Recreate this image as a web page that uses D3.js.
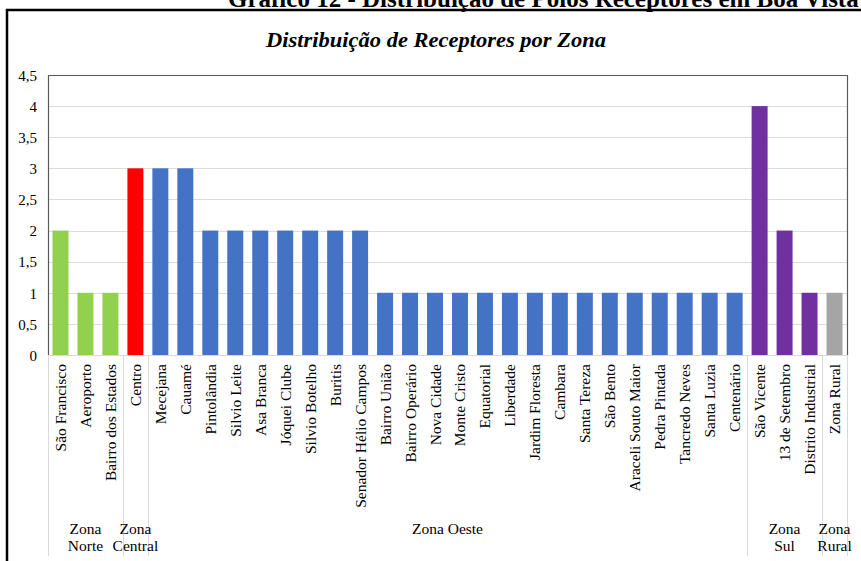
<!DOCTYPE html>
<html>
<head>
<meta charset="utf-8">
<script src="https://cdn.jsdelivr.net/npm/d3@7"></script>
<style>
  html, body { margin: 0; padding: 0; background: #fff; }
  svg { display: block; }
  text { font-family: "Liberation Serif", "Times New Roman", serif; fill: #000; }
</style>
</head>
<body>
<svg id="chart" width="861" height="561"></svg>
<script>
const categories = ["São Francisco","Aeroporto","Bairro dos Estados","Centro","Mecejana","Cauamé","Pintolândia","Silvio Leite","Asa Branca","Jóquei Clube","Silvio Botelho","Buritis","Senador Hélio Campos","Bairro União","Bairro Operário","Nova Cidade","Monte Cristo","Equatorial","Liberdade","Jardim Floresta","Cambara","Santa Tereza","São Bento","Araceli Souto Maior","Pedra Pintada","Tancredo Neves","Santa Luzia","Centenário","São Vicente","13 de Setembro","Distrito Industrial","Zona Rural"];
const values = [2,1,1,3,3,3,2,2,2,2,2,2,2,1,1,1,1,1,1,1,1,1,1,1,1,1,1,1,4,2,1,1];
const zones = ["Norte","Norte","Norte","Central","Oeste","Oeste","Oeste","Oeste","Oeste","Oeste","Oeste","Oeste","Oeste","Oeste","Oeste","Oeste","Oeste","Oeste","Oeste","Oeste","Oeste","Oeste","Oeste","Oeste","Oeste","Oeste","Oeste","Oeste","Sul","Sul","Sul","Rural"];
const zoneKeys = ["Norte","Central","Oeste","Sul","Rural"];
const zoneLabels = [["Zona","Norte"],["Zona","Central"],["Zona Oeste"],["Zona","Sul"],["Zona","Rural"]];
const zoneColors = ["#92d050","#ff0000","#4472c4","#7030a0","#a5a5a5"];
const yTicks = [0,0.5,1,1.5,2,2.5,3,3.5,4,4.5];
const yTickLabels = ["0","0,5","1","1,5","2","2,5","3","3,5","4","4,5"];
const mainTitle = "Gráfico 12 - Distribuição de Polos Receptores em Boa Vista";
const chartTitle = "Distribuição de Receptores por Zona";

(function () {
const svg = d3.select("#chart");
const pL = 48, pR = 847, pT = 75, pB = 355;

const x = d3.scaleBand().domain(categories).range([pL, pR]).paddingInner(0.36).paddingOuter(0.18);
const y = d3.scaleLinear().domain([0, 4.5]).range([pB, pT]);
const color = d3.scaleOrdinal().domain(zoneKeys).range(zoneColors);

// outer frame
svg.append("rect").attr("x", 7).attr("y", 10).attr("width", 900).attr("height", 600)
  .attr("fill", "none").attr("stroke", "#000").attr("stroke-width", 2.5);

// main title (cut at top, as in the source page)
svg.append("text").attr("x", 228).attr("y", 7)
  .attr("font-size", 25).attr("font-weight", "bold").text(mainTitle);

// chart title
svg.append("text").attr("x", 436).attr("y", 47).attr("text-anchor", "middle")
  .attr("font-size", 22).attr("font-weight", "bold").attr("font-style", "italic")
  .attr("textLength", 340).attr("lengthAdjust", "spacingAndGlyphs")
  .text(chartTitle);

// gridlines
svg.append("g").selectAll("line").data(yTicks.slice(1)).join("line")
  .attr("x1", pL).attr("x2", pR)
  .attr("y1", d => Math.round(y(d)) + 0.5).attr("y2", d => Math.round(y(d)) + 0.5)
  .attr("stroke", "#dcdcdc").attr("stroke-width", 1);

// y axis labels
const yAxis = d3.axisLeft(y).tickValues(yTicks).tickFormat((d, i) => yTickLabels[i]).tickSize(0).tickPadding(11);
const gy = svg.append("g").attr("transform", `translate(${pL},0)`).call(yAxis);
gy.select(".domain").remove();
gy.selectAll("text").attr("font-family", "Liberation Serif").attr("font-size", 15).attr("fill", "#000").attr("dy", "0.35em");

// bars
svg.append("g").selectAll("rect").data(categories).join("rect")
  .attr("x", d => x(d)).attr("width", x.bandwidth())
  .attr("y", (d, i) => y(values[i])).attr("height", (d, i) => pB - y(values[i]))
  .attr("fill", (d, i) => color(zones[i]));

// baseline
svg.append("line").attr("x1", pL).attr("x2", pR).attr("y1", pB + 0.5).attr("y2", pB + 0.5)
  .attr("stroke", "#d9d9d9");

// plot border top/left/right
svg.append("path")
  .attr("d", `M${pL + 0.5},${pB}V${pT + 0.5}H${pR + 0.5}V${pB}`)
  .attr("fill", "none").attr("stroke", "#595959").attr("stroke-width", 1.2);

// group boundaries
const bounds = [];
let startIdx = 0;
const bw = (pR - pL) / categories.length;
zoneKeys.forEach((z, zi) => {
  const n = zones.filter(v => v === z).length;
  bounds.push({ zi, start: pL + startIdx * bw, end: pL + (startIdx + n) * bw });
  startIdx += n;
});
const sepX = [pL].concat(bounds.map(b => b.end));
svg.append("g").selectAll("line").data(sepX).join("line")
  .attr("x1", d => Math.round(d) + 0.5).attr("x2", d => Math.round(d) + 0.5)
  .attr("y1", pB).attr("y2", 556)
  .attr("stroke", "#d9d9d9").attr("stroke-width", 1);

// category labels
svg.append("g").selectAll("text").data(categories).join("text")
  .attr("transform", d => `translate(${x(d) + x.bandwidth() / 2 + 5.5},${pB + 9}) rotate(-90)`)
  .attr("text-anchor", "end").attr("font-size", 15.5)
  .text(d => d);

// group labels
bounds.forEach(b => {
  const lines = zoneLabels[b.zi];
  const cx = (b.start + b.end) / 2;
  const t = svg.append("text").attr("text-anchor", "middle").attr("font-size", 15.5);
  lines.forEach((ln, li) => {
    t.append("tspan").attr("x", cx).attr("y", 534 + li * 17).text(ln);
  });
});
})();
</script>
</body>
</html>
